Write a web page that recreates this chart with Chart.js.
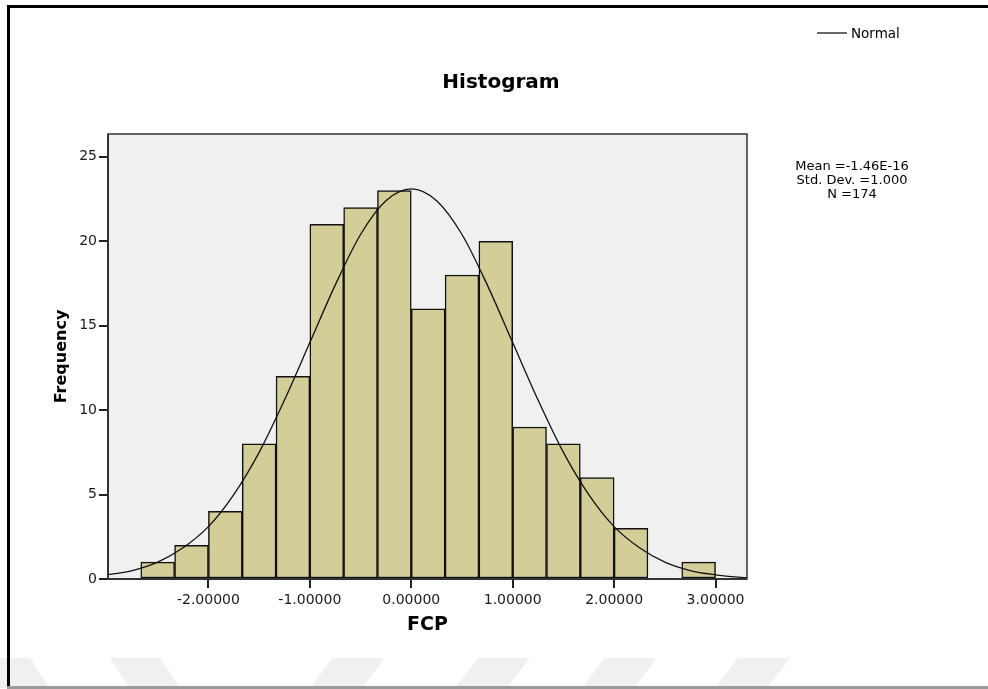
<!DOCTYPE html>
<html>
<head>
<meta charset="utf-8">
<script src="https://cdn.jsdelivr.net/npm/chart.js@4.4.1/dist/chart.umd.min.js"></script>
<style>
  html, body { margin: 0; padding: 0; background: #fff; }
  #wrap { width: 988px; height: 689px; }
</style>
</head>
<body>
<div id="wrap"><canvas id="hist" width="988" height="689"></canvas></div>
<script>
// histogram bins (centres of 1/3-wide bins) and counts
const binCenters = [-2.5, -2.1667, -1.8333, -1.5, -1.1667, -0.8333, -0.5, -0.1667, 0.1667, 0.5, 0.8333, 1.1667, 1.5, 1.8333, 2.1667, 2.5, 2.8333];
const frequencies = [1, 2, 4, 8, 12, 21, 22, 23, 16, 18, 20, 9, 8, 6, 3, 0, 1];

// normal curve
const curveX = [-3, -2.75, -2.5, -2.25, -2, -1.75, -1.5, -1.25, -1, -0.75, -0.5, -0.25, 0, 0.25, 0.5, 0.75, 1, 1.25, 1.5, 1.75, 2, 2.25, 2.5, 2.75, 3, 3.25, 3.4];
const curveY = [0.25, 0.5, 1.0, 1.85, 3.1, 5.0, 7.5, 10.6, 14.0, 17.4, 20.4, 22.4, 23.1, 22.4, 20.4, 17.4, 14.0, 10.6, 7.5, 5.0, 3.1, 1.85, 1.0, 0.5, 0.25, 0.1, 0.07];

const xTicks = [-2, -1, 0, 1, 2, 3];
const statLines = ['Mean =-1.46E-16', 'Std. Dev. =1.000', 'N =174'];

const barData = binCenters.map((x, i) => ({ x: x, y: frequencies[i] }));
const curveData = curveX.map((x, i) => ({ x: x, y: curveY[i] }));

const decor = {
	id: 'decor',
	beforeDraw(chart) {
		const ctx = chart.ctx;
		const a = chart.chartArea;
		ctx.save();
		ctx.fillStyle = '#fff';
		ctx.fillRect(0, 0, chart.width, chart.height);

		// faint watermark stripes at the bottom
		ctx.fillStyle = '#f0f0f0';
		const back = [-20, 110];
		back.forEach(x0 => {
			ctx.beginPath();
			ctx.moveTo(x0, 658); ctx.lineTo(x0 + 50, 658);
			ctx.lineTo(x0 + 70, 688); ctx.lineTo(x0 + 20, 688);
			ctx.closePath(); ctx.fill();
		});
		const fwd = [310, 455, 582, 715];
		fwd.forEach(x0 => {
			ctx.beginPath();
			ctx.moveTo(x0, 688); ctx.lineTo(x0 + 52, 688);
			ctx.lineTo(x0 + 75, 658); ctx.lineTo(x0 + 23, 658);
			ctx.closePath(); ctx.fill();
		});

		// page frame
		ctx.fillStyle = '#000';
		ctx.fillRect(7, 5, chart.width - 7, 3);
		ctx.fillRect(7, 5, 3, chart.height - 5);
		ctx.fillStyle = '#9a9a9a';
		ctx.fillRect(7, 686, chart.width - 7, 3);

		// plot background
		ctx.fillStyle = '#f0f0f0';
		ctx.fillRect(a.left, a.top, a.right - a.left, a.bottom - a.top);
		ctx.restore();
	},
	afterDatasetsDraw(chart) {
		const ctx = chart.ctx;
		const a = chart.chartArea;
		ctx.save();
		ctx.strokeStyle = '#333';
		ctx.lineWidth = 1.5;
		ctx.strokeRect(a.left, a.top, a.right - a.left, a.bottom - a.top);
		ctx.lineWidth = 2;
		ctx.beginPath();
		ctx.moveTo(a.left, a.top); ctx.lineTo(a.left, a.bottom); ctx.lineTo(a.right, a.bottom);
		ctx.stroke();
		ctx.restore();
	},
	afterDraw(chart) {
		const ctx = chart.ctx;
		ctx.save();
		ctx.fillStyle = '#000';
		ctx.textBaseline = 'middle';

		ctx.font = 'bold 20px "DejaVu Sans"';
		ctx.textAlign = 'center';
		ctx.fillText('Histogram', 501, 83);

		// legend
		ctx.strokeStyle = '#000';
		ctx.lineWidth = 1.2;
		ctx.beginPath();
		ctx.moveTo(817, 33); ctx.lineTo(847, 33);
		ctx.stroke();
		ctx.font = '13.5px "DejaVu Sans"';
		ctx.textAlign = 'left';
		ctx.fillText('Normal', 851, 34);

		// stats box
		ctx.font = '13px "DejaVu Sans"';
		ctx.textAlign = 'center';
		statLines.forEach((s, i) => ctx.fillText(s, 852, 167 + i * 14));
		ctx.restore();
	}
};

new Chart(document.getElementById('hist'), {
	type: 'bar',
	data: {
		datasets: [
			{
				type: 'line',
				label: 'Normal',
				data: curveData,
				borderColor: '#111',
				borderWidth: 1.3,
				pointRadius: 0,
				cubicInterpolationMode: 'monotone',
				fill: false,
				order: 0
			},
			{
				type: 'bar',
				label: 'FCP',
				data: barData,
				backgroundColor: '#d3ce98',
				borderColor: '#111',
				borderWidth: 1.5,
				borderSkipped: false,
				barPercentage: 1.0,
				categoryPercentage: 1.0,
				grouped: false,
				order: 1
			}
		]
	},
	options: {
		responsive: false,
		animation: false,
		layout: { padding: { left: 0, right: 241, top: 134, bottom: 45 } },
		plugins: {
			legend: { display: false },
			tooltip: { enabled: false },
			title: { display: false }
		},
		scales: {
			x: {
				type: 'linear',
				min: -2.99,
				max: 3.31,
				offset: false,
				afterFit: scale => { scale.height = 65; },
				afterBuildTicks: scale => { scale.ticks = xTicks.map(v => ({ value: v })); },
				grid: { display: true, offset: false, drawOnChartArea: false, drawTicks: true, tickLength: 9, color: '#222', lineWidth: 2 },
				border: { display: false },
				ticks: {
					autoSkip: false,
					maxRotation: 0,
					padding: 4,
					color: '#1a1a1a',
					font: { family: 'DejaVu Sans', size: 14 },
					callback: v => v.toFixed(5)
				},
				title: {
					display: true,
					text: 'FCP',
					color: '#000',
					font: { family: 'DejaVu Sans', size: 19, weight: 'bold' },
					padding: { top: 4, bottom: 8 }
				}
			},
			y: {
				min: 0,
				max: 26.35,
				afterFit: scale => { scale.width = 108; },
				grid: { display: true, drawOnChartArea: false, drawTicks: true, tickLength: 9, color: '#222', lineWidth: 2 },
				border: { display: false },
				ticks: {
					stepSize: 5,
					includeBounds: false,
					padding: 2,
					color: '#1a1a1a',
					font: { family: 'DejaVu Sans', size: 14 }
				},
				title: {
					display: true,
					text: 'Frequency',
					color: '#000',
					font: { family: 'DejaVu Sans', size: 16, weight: 'bold' },
					padding: { top: 52, bottom: 0 }
				}
			}
		}
	},
	plugins: [decor]
});
</script>
</body>
</html>
